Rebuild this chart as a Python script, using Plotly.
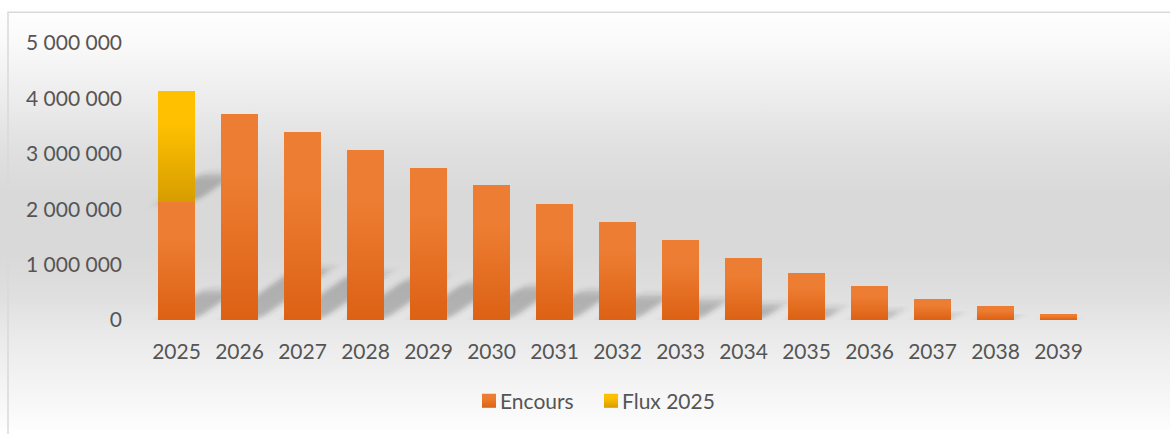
import base64
import plotly.graph_objects as go

years = ["2025", "2026", "2027", "2028", "2029", "2030", "2031", "2032",
         "2033", "2034", "2035", "2036", "2037", "2038", "2039"]
encours = [2125000, 3710000, 3390000, 3070000, 2750000, 2430000, 2090000, 1770000,
           1450000, 1125000, 840000, 610000, 375000, 250000, 107000]
flux_2025 = [2015000, 0, 0, 0, 0, 0, 0, 0, 0, 0, 0, 0, 0, 0, 0]
y_ticks = [0, 1000000, 2000000, 3000000, 4000000, 5000000]

W, H = 1170, 434
L, R, T, B = 145, 80, 43, 111
PW, PH = W - L - R, H - T - B
FONT = "Lato, 'Open Sans', sans-serif"
GREY = "#555555"

# soft vertical grey gradient of the chart area (Excel style)
stops = [(0, "#ffffff"), (12, "#fefefe"), (45, "#f9f9f9"), (100, "#ececec"),
         (150, "#e0e0e0"), (195, "#d9d9d9"), (255, "#d9d9d9"), (300, "#dfdfdf"),
         (335, "#e9e9e9"), (370, "#f0f0f0"), (405, "#f7f7f7"), (434, "#fdfdfd")]
stop_xml = "".join('<stop offset="%.4f" stop-color="%s"/>' % (y / H, c) for y, c in stops)
bg_svg = ('<svg xmlns="http://www.w3.org/2000/svg" width="%d" height="%d" preserveAspectRatio="none">'
          '<defs><linearGradient id="g" x1="0" y1="0" x2="0" y2="1">%s</linearGradient></defs>'
          '<rect width="100%%" height="100%%" fill="url(#g)"/></svg>') % (W, H, stop_xml)
bg_uri = "data:image/svg+xml;base64," + base64.b64encode(bg_svg.encode()).decode()

fig = go.Figure()
fig.add_trace(go.Bar(x=years, y=encours, name="Encours", marker_color="#E56F24",
                     marker_line_width=0, hoverinfo="x+y"))
fig.add_trace(go.Bar(x=years, y=flux_2025, name="Flux 2025", marker_color="#EAAE00",
                     marker_line_width=0, hoverinfo="x+y"))

fig.update_layout(
    width=W, height=H,
    margin=dict(l=L, r=R, t=T, b=B, pad=0),
    barmode="stack", bargap=0.413,
    paper_bgcolor="white", plot_bgcolor="rgba(0,0,0,0)",
    separators=", ",
    font=dict(family=FONT, size=21, color=GREY),
    showlegend=True,
    legend=dict(orientation="h", x=(460 - L) / PW, xanchor="left",
                y=-(405 - (T + PH)) / PH, yanchor="middle",
                font=dict(family=FONT, size=21, color=GREY),
                bgcolor="rgba(0,0,0,0)", itemwidth=30, entrywidth=77,
                traceorder="normal"),
    xaxis=dict(showgrid=False, zeroline=False, showline=False, ticks="",
               ticklabelstandoff=17, tickfont=dict(family=FONT, size=21, color=GREY)),
    yaxis=dict(range=[0, 5000000], tickvals=y_ticks, tickformat=",d",
               showgrid=False, zeroline=False, showline=False, ticks="",
               ticklabelstandoff=22, tickfont=dict(family=FONT, size=21, color=GREY)),
    images=[dict(source=bg_uri, xref="paper", yref="paper",
                 x=-L / PW, y=1 + T / PH, sizex=W / PW, sizey=H / PH,
                 xanchor="left", yanchor="top", sizing="stretch", layer="below")],
    shapes=[dict(type="rect", xref="paper", yref="paper",
                 x0=(8 - L) / PW, x1=(W + 20 - L) / PW,
                 y0=-(H + 20 - T - PH) / PH, y1=1 + (T - 12) / PH,
                 line=dict(color="#d9d9d9", width=1.5), fillcolor="rgba(0,0,0,0)",
                 layer="above")],
)

# gradient fills and soft perspective shadows, added on top of plotly's own bars
post = r"""
document.body.style.margin = '0';
var gd = document.getElementById('{plot_id}');
(function () {
  var NS = 'http://www.w3.org/2000/svg';
  var svg = gd.querySelector('svg.main-svg');
  var defs = svg.querySelector('defs');
  function grad(id, c1, c2) {
    var g = document.createElementNS(NS, 'linearGradient');
    g.setAttribute('id', id);
    g.setAttribute('x1', '0'); g.setAttribute('y1', '0');
    g.setAttribute('x2', '0'); g.setAttribute('y2', '1');
    [[0, c1], [0.3, c1], [1, c2]].forEach(function (s) {
      var st = document.createElementNS(NS, 'stop');
      st.setAttribute('offset', s[0]); st.setAttribute('stop-color', s[1]);
      g.appendChild(st);
    });
    defs.appendChild(g);
  }
  grad('gEnc', '#ED7D32', '#DC6114');
  grad('gFlux', '#FFC000', '#D69D00');
  var f = document.createElementNS(NS, 'filter');
  f.setAttribute('id', 'barShadow');
  f.setAttribute('x', '-60%'); f.setAttribute('y', '-60%');
  f.setAttribute('width', '220%'); f.setAttribute('height', '220%');
  var bl = document.createElementNS(NS, 'feGaussianBlur');
  bl.setAttribute('stdDeviation', '4 14');
  f.appendChild(bl);
  defs.appendChild(f);
  var ids = ['gEnc', 'gFlux'];
  var layer = gd.querySelector('.barlayer');
  var sg = document.createElementNS(NS, 'g');
  layer.insertBefore(sg, layer.firstChild);
  var k = 0.36, s = 0.25;
  gd.querySelectorAll('.barlayer .trace.bars').forEach(function (tr, i) {
    tr.querySelectorAll('path').forEach(function (p) {
      var bb = p.getBBox();
      if (bb.height > 0.5) {
        var base = bb.y + bb.height;
        var c = p.cloneNode(false);
        c.setAttribute('transform', 'matrix(1,0,' + (-k) + ',' + s + ',' + (k * base) + ',' + (base * (1 - s)) + ')');
        c.style.fill = 'rgba(50,50,50,0.27)';
        c.style.stroke = 'none';
        c.setAttribute('filter', 'url(#barShadow)');
        sg.appendChild(c);
      }
      p.style.fill = 'url(#' + ids[i] + ')';
    });
  });
  gd.querySelectorAll('.legend .scrollbox, .legend [clip-path]').forEach(function (n) {
    n.removeAttribute('clip-path');
  });
  gd.querySelectorAll('.legend .traces').forEach(function (t, i) {
    var p = t.querySelector('.legendpoints path');
    if (p) {
      p.style.fill = 'url(#' + ids[i] + ')';
      var tf = p.getAttribute('transform') || '';
      p.setAttribute('transform', tf + ' translate(9,0) scale(1.17)');
    }
  });
})();
"""

fig.write_html("out.html", post_script=post, config={"displayModeBar": False})
